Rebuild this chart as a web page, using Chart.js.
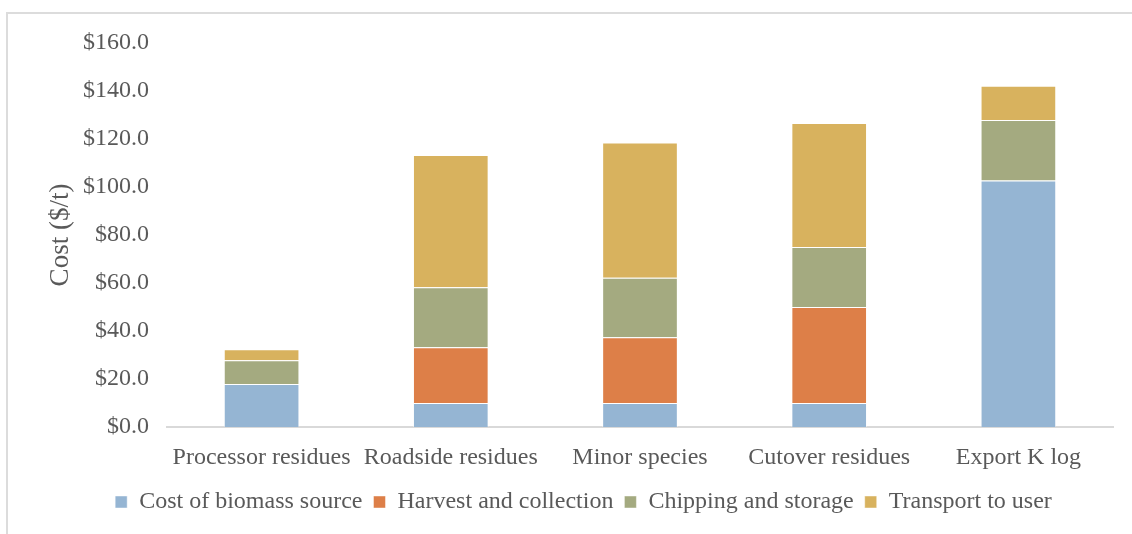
<!DOCTYPE html>
<html>
<head>
<meta charset="utf-8">
<script src="https://cdn.jsdelivr.net/npm/chart.js@4/dist/chart.umd.min.js"></script>
<style>
  html, body { margin: 0; padding: 0; background: #ffffff; overflow: hidden; }
  #wrap { position: relative; width: 1132px; height: 534px; }
</style>
</head>
<body>
<div id="wrap"><canvas id="chart" width="1132" height="534"></canvas></div>
<script>
// Biomass supply cost by source, stacked by cost component ($/t)
const categories = ['Processor residues', 'Roadside residues', 'Minor species', 'Cutover residues', 'Export K log'];
const seriesNames = ['Cost of biomass source', 'Harvest and collection', 'Chipping and storage', 'Transport to user'];
const biomassSource = [17.9, 10.0, 10.0, 10.0, 102.7];
const harvestCollection = [0, 23.2, 27.4, 40.0, 0];
const chippingStorage = [9.9, 25.0, 24.8, 25.0, 25.2];
const transportUser = [4.6, 55.1, 56.3, 51.7, 14.3];
const yTicks = [0, 20, 40, 60, 80, 100, 120, 140, 160];

const seriesValues = [biomassSource, harvestCollection, chippingStorage, transportUser];
const seriesColors = ['#95b5d3', '#dd7f48', '#a4aa80', '#d8b25e'];

const textColor = '#595959';
const serif = '"Liberation Serif", "Times New Roman", serif';

// light frame around the chart (top and left edges)
const framePlugin = {
  id: 'frame',
  afterLayout(chart) {
    // nudge the legend row a little to the right of the canvas centre
    chart.legend.left += 28;
  },
  beforeDraw(chart) {
    const ctx = chart.ctx;
    ctx.save();
    ctx.fillStyle = '#ffffff';
    ctx.fillRect(0, 0, chart.width, chart.height);
    ctx.strokeStyle = '#dcdcdc';
    ctx.lineWidth = 2;
    ctx.beginPath();
    ctx.moveTo(7, chart.height);
    ctx.lineTo(7, 13);
    ctx.lineTo(chart.width, 13);
    ctx.stroke();
    ctx.restore();
  }
};

new Chart(document.getElementById('chart'), {
  type: 'bar',
  data: {
    labels: categories,
    datasets: seriesNames.map((name, i) => ({
      label: name,
      data: seriesValues[i],
      backgroundColor: seriesColors[i],
      borderColor: 'rgba(255,255,255,0.45)',
      borderWidth: 1,
      categoryPercentage: 1.0,
      barPercentage: 0.4
    }))
  },
  options: {
    responsive: false,
    animation: false,
    layout: { padding: { left: 26, right: 19, top: 43, bottom: 10 } },
    plugins: {
      tooltip: { enabled: false },
      legend: {
        position: 'bottom',
        labels: {
          color: textColor,
          font: { family: serif, size: 24 },
          boxWidth: 12,
          boxHeight: 12,
          padding: 11
        }
      }
    },
    scales: {
      x: {
        stacked: true,
        grid: { display: false },
        border: { display: true, color: '#d9d9d9', width: 2 },
        ticks: {
          color: textColor,
          font: { family: serif, size: 24 },
          padding: 8,
          maxRotation: 0
        },
        afterFit(scale) { scale.height = 52; }
      },
      y: {
        stacked: true,
        min: 0,
        max: 160,
        grid: { display: false, drawTicks: false },
        border: { display: false },
        afterBuildTicks(scale) { scale.ticks = yTicks.map(v => ({ value: v })); },
        ticks: {
          color: textColor,
          font: { family: serif, size: 24 },
          padding: 18,
          callback: v => '$' + Number(v).toFixed(1)
        },
        title: {
          display: true,
          text: 'Cost ($/t)',
          color: textColor,
          font: { family: serif, size: 27 },
          padding: { top: 19, bottom: 0 }
        },
        afterFit(scale) { scale.width = 141; }
      }
    }
  },
  plugins: [framePlugin]
});
</script>
</body>
</html>
